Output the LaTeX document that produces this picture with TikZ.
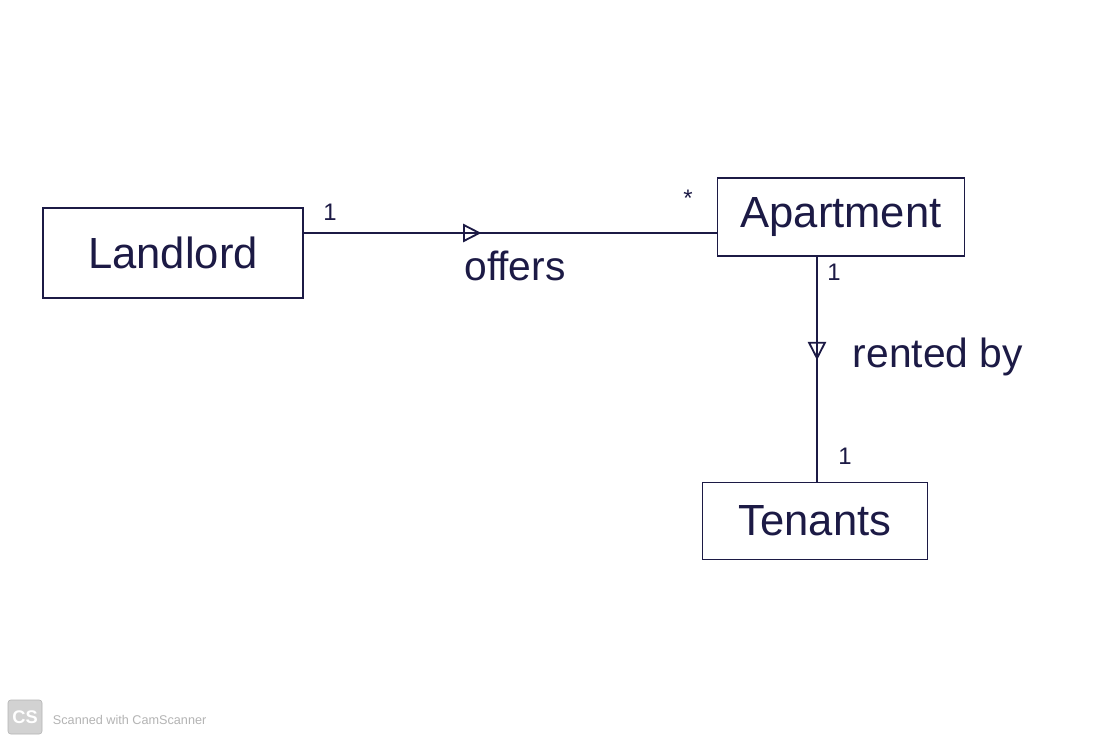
\documentclass[tikz,border=0pt]{standalone}
\usepackage{fontspec}
\setmainfont{Liberation Sans}
\usetikzlibrary{arrows.meta,decorations.markings}
\definecolor{ink}{HTML}{1C1A45}
\definecolor{wm}{HTML}{B4B4B4}
\tikzset{
  cls/.style={draw=ink, line width=1.4pt, text=ink, font=\fontsize{31}{36}\selectfont, inner sep=0pt},
  assoc/.style={draw=ink, line width=1.4pt},
  mult/.style={text=ink, font=\fontsize{17}{20}\selectfont},
  rolelbl/.style={text=ink, font=\fontsize{29}{34}\selectfont},
  opentri/.style={postaction={decorate, decoration={markings, mark=at position #1 with {\arrow[ink, line width=1.3pt]{Triangle[open, length=13pt, width=13pt]}}}}}
}
\begin{document}
\begin{tikzpicture}[x=0.025cm, y=-0.025cm]
\useasboundingbox[fill=white] (0,0) rectangle (1112,743);
% classes
\node[cls, minimum width=260*0.025cm, minimum height=90*0.025cm] (landlord) at (173,253) {Landlord};
\node[cls, minimum width=247*0.025cm, minimum height=78*0.025cm] (apartment) at (841,217) {Apartment};
\node[cls, minimum width=225*0.025cm, minimum height=77*0.025cm] (tenants) at (815,521) {Tenants};
% associations
\coordinate (aptS) at (817,256);
\coordinate (tenN) at (817,482.5);
\draw[assoc, opentri=0.43] (landlord.east |- 0,233) -- (apartment.west |- 0,233);
\draw[assoc, opentri=0.46] (aptS) -- (tenN);
% labels
\node[rolelbl] (offers) at (515,266) {offers};
\node[rolelbl, anchor=west] (rented) at (848,357) {rented by};
\node[mult] (m1) at (330,212) {1};
\node[mult] (m2) at (688,198) {*};
\node[mult] (m3) at (834,272) {1};
\node[mult] (m4) at (845,456) {1};
% watermark
\node[draw=wm, fill=wm!60, text=white, rounded corners=2pt, minimum width=34*0.025cm, minimum height=34*0.025cm, inner sep=0pt, font=\bfseries\fontsize{13}{14}\selectfont] (cs) at (25,717) {CS};
\node[text=wm, anchor=west, font=\fontsize{9}{10}\selectfont] (scan) at (48,720) {Scanned with CamScanner};
\end{tikzpicture}
\end{document}
